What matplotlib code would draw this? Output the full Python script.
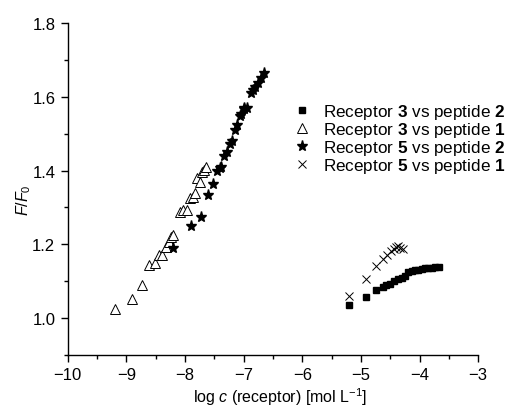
import numpy as np
import matplotlib.pyplot as plt
from matplotlib.ticker import MultipleLocator

plt.rcParams['font.family'] = ['Liberation Sans', 'DejaVu Sans']
plt.rcParams['mathtext.fontset'] = 'custom'
plt.rcParams['mathtext.rm'] = 'Liberation Sans'
plt.rcParams['mathtext.it'] = 'Liberation Sans:italic'
plt.rcParams['mathtext.bf'] = 'Liberation Sans:bold'

# Receptor 3 vs peptide 2 (squares)
r3p2_x = [-5.21, -4.91, -4.74, -4.63, -4.57, -4.50, -4.43, -4.37, -4.30, -4.25,
          -4.19, -4.13, -4.08, -4.02, -3.96, -3.90, -3.85, -3.79, -3.73, -3.66]
r3p2_y = [1.034, 1.058, 1.075, 1.085, 1.090, 1.093, 1.101, 1.105, 1.108, 1.115,
          1.124, 1.127, 1.129, 1.131, 1.133, 1.135, 1.136, 1.137, 1.138, 1.138]

# Receptor 3 vs peptide 1 (open triangles)
r3p1_x = [-9.20, -8.90, -8.73, -8.61, -8.52, -8.44, -8.39, -8.32, -8.28, -8.24,
          -8.20, -8.08, -8.03, -7.97, -7.91, -7.87, -7.83, -7.79, -7.75, -7.71,
          -7.68, -7.65]
r3p1_y = [1.024, 1.052, 1.089, 1.145, 1.149, 1.170, 1.170, 1.193, 1.206, 1.220,
          1.224, 1.289, 1.292, 1.292, 1.326, 1.329, 1.338, 1.381, 1.368, 1.395,
          1.402, 1.409]

# Receptor 5 vs peptide 2 (stars)
r5p2_x = [-8.20, -7.90, -7.73, -7.61, -7.52, -7.45, -7.41, -7.39, -7.34, -7.29,
          -7.24, -7.20, -7.14, -7.11, -7.07, -7.05, -7.00, -6.99, -6.94, -6.88,
          -6.84, -6.80, -6.76, -6.71, -6.66]
r5p2_y = [1.190, 1.251, 1.275, 1.334, 1.365, 1.398, 1.408, 1.410, 1.440, 1.450,
          1.473, 1.479, 1.511, 1.525, 1.547, 1.554, 1.570, 1.567, 1.570, 1.610,
          1.619, 1.628, 1.639, 1.651, 1.666]

# Receptor 5 vs peptide 1 (crosses)
r5p1_x = [-5.21, -4.91, -4.74, -4.63, -4.56, -4.49, -4.43, -4.40, -4.36, -4.33, -4.29]
r5p1_y = [1.061, 1.105, 1.141, 1.161, 1.172, 1.181, 1.188, 1.193, 1.195, 1.190, 1.188]

xticks = [-10, -9, -8, -7, -6, -5, -4, -3]
yticks = [1.0, 1.2, 1.4, 1.6, 1.8]

fig = plt.figure(figsize=(5.06, 4.10), dpi=100)
ax = fig.add_axes([0.134, 0.132, 0.811, 0.809])

ax.plot(r3p2_x, r3p2_y, 's', color='black', ms=4.8,
        label=r'Receptor $\mathbf{3}$ vs peptide $\mathbf{2}$')
ax.plot(r3p1_x, r3p1_y, '^', color='black', mfc='white', mew=0.7, ms=7,
        label=r'Receptor $\mathbf{3}$ vs peptide $\mathbf{1}$')
ax.plot(r5p2_x, r5p2_y, '*', color='black', ms=8,
        label=r'Receptor $\mathbf{5}$ vs peptide $\mathbf{2}$')
ax.plot(r5p1_x, r5p1_y, 'x', color='black', mew=0.7, ms=6,
        label=r'Receptor $\mathbf{5}$ vs peptide $\mathbf{1}$')

ax.set_xlim(-10, -3)
ax.set_ylim(0.9, 1.8)
ax.set_xticks(xticks)
ax.set_xticklabels(['\u2212%d' % abs(v) for v in xticks])
ax.set_yticks(yticks)
ax.set_yticklabels(['%.1f' % v for v in yticks])
ax.xaxis.set_minor_locator(MultipleLocator(0.5))
ax.yaxis.set_minor_locator(MultipleLocator(0.1))

for s in ['top', 'right']:
    ax.spines[s].set_visible(False)
for s in ['left', 'bottom']:
    ax.spines[s].set_linewidth(1.0)
ax.tick_params(which='major', direction='out', length=5, width=1.0, labelsize=12, pad=4)
ax.tick_params(which='minor', direction='out', length=3, width=1.0)

ax.set_xlabel(r'log $c$ (receptor) [mol L$^{-1}$]', fontsize=11.5)
ax.xaxis.set_label_coords(0.517, -0.092)
ax.set_ylabel(r'$F$/$F_{\mathrm{0}}$', fontsize=11.5)
ax.yaxis.set_label_coords(-0.085, 0.47)

ax.legend(loc='upper left', bbox_to_anchor=(0.55, 0.763), frameon=False, fontsize=12.3,
          handlelength=1.0, handletextpad=0.7, labelspacing=-0.05, borderaxespad=0, borderpad=0)

fig.savefig('out.png', dpi=100)
